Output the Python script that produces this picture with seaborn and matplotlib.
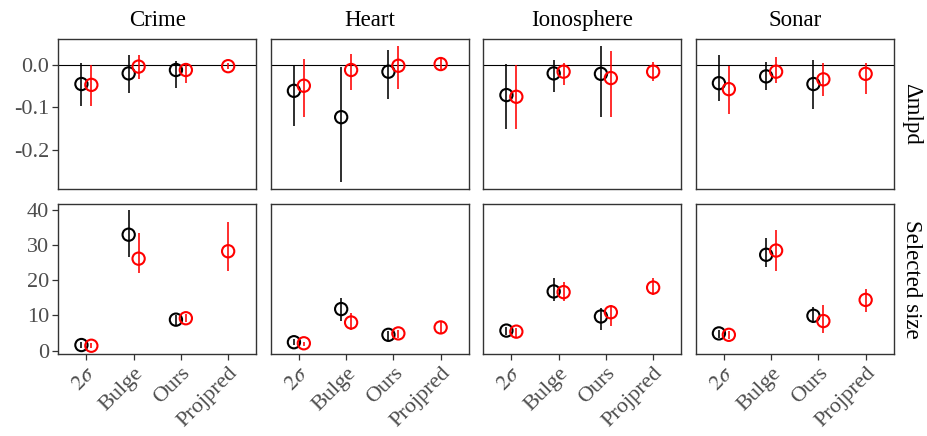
import numpy as np
import pandas as pd
import matplotlib
matplotlib.use("Agg")
import matplotlib.pyplot as plt
from matplotlib.collections import PathCollection
import seaborn as sns

# ---------------- data ----------------
datasets = ["Crime", "Heart", "Ionosphere", "Sonar"]
methods = ["2σ", "Bulge", "Ours", "Projpred"]
method_labels = [r"$2\sigma$", "Bulge", "Ours", "Projpred"]
series = ["black", "red"]

# Δmlpd (rows: datasets, cols: methods); None = absent
mlpd_black_mean = [[-0.045, -0.020, -0.012, None],
                   [-0.061, -0.123, -0.016, None],
                   [-0.071, -0.020, -0.021, None],
                   [-0.043, -0.027, -0.045, None]]
mlpd_black_lo = [[-0.096, -0.067, -0.055, None],
                 [-0.143, -0.276, -0.081, None],
                 [-0.151, -0.064, -0.123, None],
                 [-0.084, -0.059, -0.104, None]]
mlpd_black_hi = [[0.004, 0.024, 0.010, None],
                 [0.000, -0.005, 0.034, None],
                 [0.002, 0.012, 0.045, None],
                 [0.024, 0.006, 0.012, None]]
mlpd_red_mean = [[-0.047, -0.004, -0.012, -0.003],
                 [-0.049, -0.012, -0.002, 0.002],
                 [-0.075, -0.016, -0.031, -0.016],
                 [-0.057, -0.016, -0.034, -0.021]]
mlpd_red_lo = [[-0.096, -0.034, -0.043, -0.010],
               [-0.123, -0.059, -0.056, -0.010],
               [-0.151, -0.047, -0.123, -0.039],
               [-0.116, -0.042, -0.073, -0.069]]
mlpd_red_hi = [[0.000, 0.024, 0.005, 0.004],
               [0.013, 0.026, 0.045, 0.016],
               [0.000, 0.004, 0.033, 0.006],
               [-0.002, 0.018, 0.004, 0.005]]

# Selected size
size_black_mean = [[1.6, 32.9, 8.8, None],
                   [2.4, 11.8, 4.5, None],
                   [5.7, 16.8, 9.7, None],
                   [4.9, 27.2, 9.9, None]]
size_black_lo = [[0.7, 26.5, 7.3, None],
                 [1.6, 8.4, 3.0, None],
                 [4.5, 14.1, 5.9, None],
                 [3.7, 23.6, 7.8, None]]
size_black_hi = [[2.6, 39.8, 10.1, None],
                 [3.3, 14.9, 5.6, None],
                 [6.8, 20.6, 12.0, None],
                 [5.9, 31.9, 12.5, None]]
size_red_mean = [[1.4, 26.1, 9.2, 28.2],
                 [2.1, 8.0, 4.9, 6.6],
                 [5.4, 16.6, 10.9, 17.9],
                 [4.5, 28.4, 8.4, 14.4]]
size_red_lo = [[0.7, 22.0, 8.0, 22.5],
               [1.4, 5.9, 3.7, 4.9],
               [4.0, 14.1, 7.0, 15.9],
               [3.3, 22.5, 5.1, 11.1]]
size_red_hi = [[2.2, 33.4, 10.4, 36.5],
               [2.6, 10.6, 5.8, 8.2],
               [6.5, 19.4, 13.0, 20.6],
               [5.6, 34.3, 13.0, 17.5]]

metrics = ["Δmlpd", "Selected size"]

# ---------------- tidy table ----------------
rows = []
tables = {
    ("Δmlpd", "black"): (mlpd_black_mean, mlpd_black_lo, mlpd_black_hi),
    ("Δmlpd", "red"): (mlpd_red_mean, mlpd_red_lo, mlpd_red_hi),
    ("Selected size", "black"): (size_black_mean, size_black_lo, size_black_hi),
    ("Selected size", "red"): (size_red_mean, size_red_lo, size_red_hi),
}
for (metric, s), (m, lo, hi) in tables.items():
    for di, d in enumerate(datasets):
        for mi, meth in enumerate(methods):
            if m[di][mi] is None:
                continue
            rows.append(dict(metric=metric, dataset=d, method=meth, mi=mi,
                             series=s, mean=m[di][mi], lo=lo[di][mi], hi=hi[di][mi]))
df = pd.DataFrame(rows)

# dodge: only when both series present at a category
dodge = 0.105
counts = df.groupby(["metric", "dataset", "method"])["series"].transform("count")
offset = np.where(counts > 1, np.where(df["series"] == "black", -dodge, dodge), 0.0)
df["x"] = df["mi"] + offset

# ---------------- style ----------------
sns.set_theme(style="white")
plt.rcParams["font.family"] = ["Liberation Serif", "DejaVu Serif"]
plt.rcParams["mathtext.fontset"] = "stix"
plt.rcParams["axes.unicode_minus"] = False

palette = {"black": "#000000", "red": "#FF0000"}
grey_text = "#4D4D4D"
frame = "#333333"
tick_fs = 16
title_fs = 16.5

fig, axes = plt.subplots(2, 4, figsize=(9.27, 4.36), dpi=100)
fig.subplots_adjust(left=0.0626, right=0.9644, top=0.9106, bottom=0.188,
                    wspace=0.0707, hspace=0.1)

ylims = {"Δmlpd": (-0.292, 0.061), "Selected size": (-0.95, 41.6)}
yticks = {"Δmlpd": [-0.2, -0.1, 0.0], "Selected size": [0, 10, 20, 30, 40]}
yticklabels = {"Δmlpd": ["-0.2", "-0.1", "0.0"], "Selected size": ["0", "10", "20", "30", "40"]}

for r, metric in enumerate(metrics):
    for c, d in enumerate(datasets):
        ax = axes[r, c]
        sub = df[(df.metric == metric) & (df.dataset == d)]
        if metric == "Δmlpd":
            ax.axhline(0, color="black", lw=0.8, zorder=1)
        for s in series:
            ss = sub[sub.series == s]
            ax.vlines(ss["x"], ss["lo"], ss["hi"], colors=palette[s], lw=1.15, zorder=2)
        sns.scatterplot(data=sub, x="x", y="mean", hue="series", palette=palette,
                        hue_order=series, s=78, marker="o", linewidth=1.5,
                        legend=False, ax=ax, zorder=3)
        for coll in ax.collections:
            if isinstance(coll, PathCollection):
                fc = coll.get_facecolors()
                coll.set_edgecolors(fc)
                coll.set_facecolors("none")
        ax.set_xlim(-0.6, 3.6)
        ax.set_ylim(*ylims[metric])
        ax.set_xlabel("")
        ax.set_ylabel("")
        for sp in ax.spines.values():
            sp.set_color(frame)
            sp.set_linewidth(1.0)
        ax.set_yticks(yticks[metric])
        if c == 0:
            ax.set_yticklabels(yticklabels[metric], fontsize=tick_fs, color=grey_text)
            ax.tick_params(axis="y", left=True, length=4.5, width=0.9, color=frame, pad=2)
        else:
            ax.set_yticklabels([])
            ax.tick_params(axis="y", left=False)
        ax.set_xticks(range(len(methods)))
        if r == 1:
            ax.set_xticklabels(method_labels, rotation=45, ha="right", va="top",
                               rotation_mode="anchor", fontsize=tick_fs, color=grey_text)
            ax.tick_params(axis="x", bottom=True, length=4, width=0.9, color=frame, pad=3)
        else:
            ax.set_xticklabels([])
            ax.tick_params(axis="x", bottom=False)
        if r == 0:
            ax.set_title(d, fontsize=title_fs, color="black", pad=9)
        if c == 3:
            ax.text(1.09, 0.5, metric, transform=ax.transAxes, rotation=-90,
                    ha="center", va="center", fontsize=title_fs, color="black")

fig.savefig("out.png", dpi=100)
